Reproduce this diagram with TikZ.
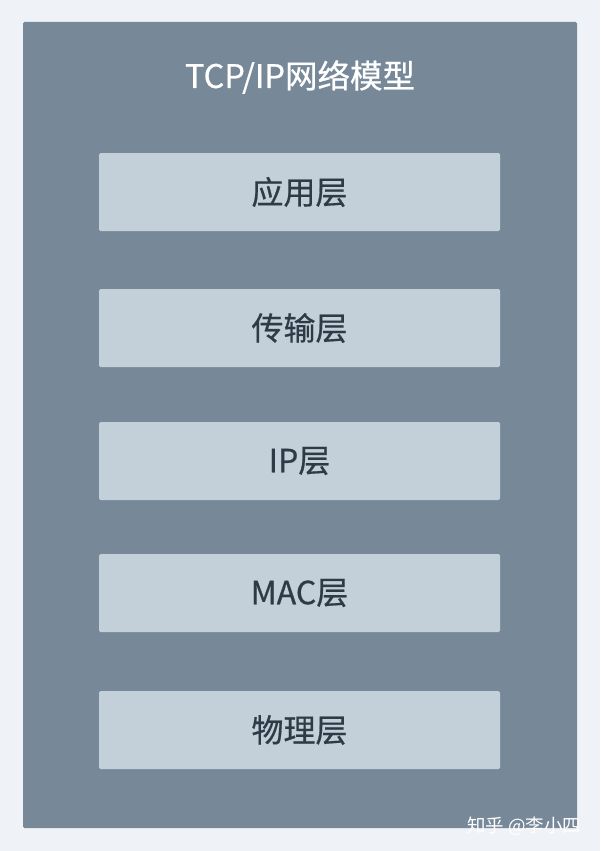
\documentclass[tikz,border=0pt]{standalone}
\usepackage{fontspec}
\setmainfont{Noto Sans CJK SC}
\newfontfamily\medfont{Noto Sans CJK SC}[FakeBold=0.6]
\definecolor{bgc}{HTML}{EFF3F7}
\definecolor{outerc}{HTML}{778899}
\definecolor{boxc}{HTML}{C4D0D9}
\definecolor{txtc}{HTML}{2E3A45}
\tikzset{
  layerbox/.style={fill=boxc, draw=none, rounded corners=1.5pt, minimum width=401pt, minimum height=78pt, inner sep=0pt, text=txtc, font=\medfont\fontsize{32}{34}\selectfont},
}
\begin{document}
\begin{tikzpicture}[x=1pt,y=-1pt]
\fill[bgc] (0,0) rectangle (600,851);
\useasboundingbox (0,0) rectangle (600,851);
\node[fill=outerc, draw=none, rounded corners=1.5pt, minimum width=554pt, minimum height=806pt, inner sep=0pt] (outer) at (300,425) {};
\node[text=white, font=\medfont\fontsize{32.5}{34}\selectfont] (title) at (300,77) {TCP/IP网络模型};
\node[layerbox] (app) at (299.5,192) {应用层};
\node[layerbox] (trans) at (299.5,328) {传输层};
\node[layerbox] (ip) at (299.5,461) {IP层};
\node[layerbox] (mac) at (299.5,593) {MAC层};
\node[layerbox] (phy) at (299.5,730) {物理层};
\node[text=white, font=\fontsize{18.5}{20}\selectfont, anchor=east] (wm) at (585,826) {知乎 @李小四};
\end{tikzpicture}
\end{document}
